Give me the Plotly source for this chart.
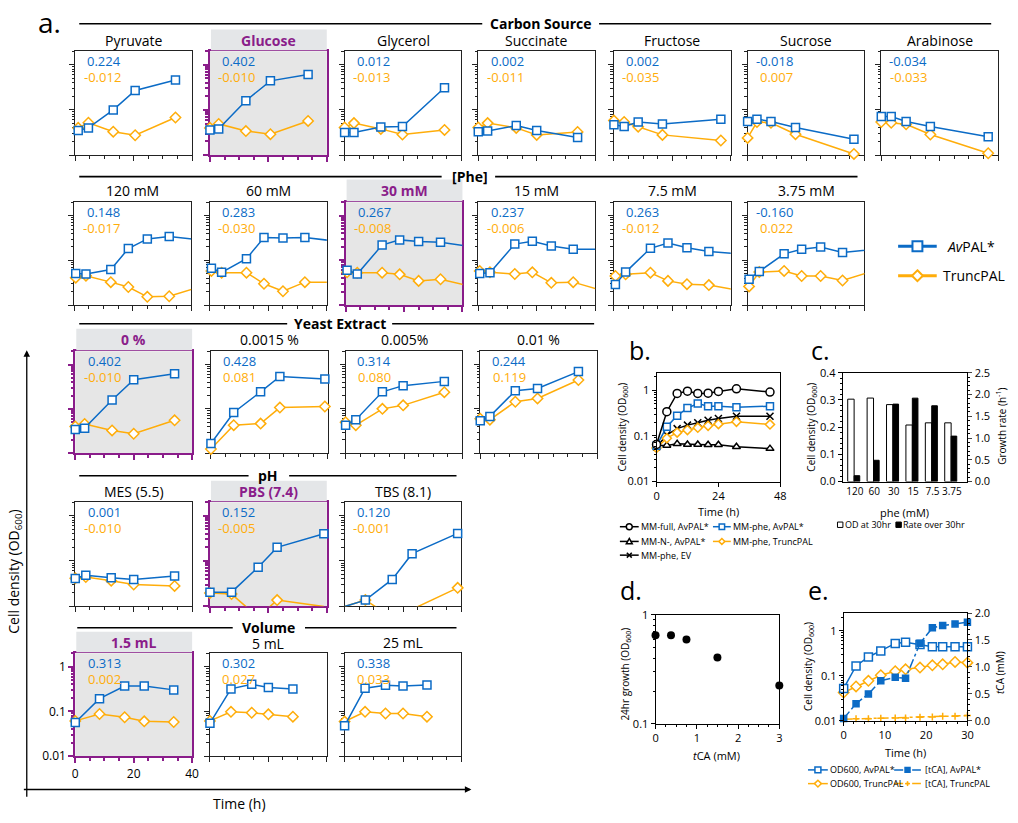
import math
import plotly.graph_objects as go

# ---------------- data: panel a ----------------
carbon_names = ["Pyruvate", "Glucose", "Glycerol", "Succinate", "Fructose", "Sucrose", "Arabinose"]
carbon_time = [
    [1, 4.5, 13, 20.5, 34.3],
    [0, 3, 12.3, 20.7, 33.6],
    [0, 3.2, 12.4, 19.8, 34.2],
    [0, 3.2, 13, 20, 34],
    [0, 3.5, 8.3, 16.6, 36.6],
    [0, 3.2, 8.0, 16.4, 36.4],
    [0, 3.4, 8.5, 16.8, 36.6],
]
carbon_avpal = [
    [0.035, 0.040, 0.10, 0.27, 0.46],
    [0.036, 0.038, 0.16, 0.44, 0.61],
    [0.0315, 0.0315, 0.042, 0.043, 0.31],
    [0.033, 0.034, 0.045, 0.035, 0.0245],
    [0.047, 0.043, 0.054, 0.049, 0.0625],
    [0.0556, 0.0625, 0.0556, 0.041, 0.0225],
    [0.0716, 0.0716, 0.0556, 0.043, 0.0254],
]
carbon_trunc = [
    [0.040, 0.052, 0.033, 0.0275, 0.068],
    [0.040, 0.049, 0.034, 0.029, 0.057],
    [0.041, 0.051, 0.038, 0.0285, 0.036],
    [0.041, 0.051, 0.040, 0.028, 0.0326],
    [0.058, 0.054, 0.0425, 0.028, 0.021],
    [0.024, 0.054, 0.052, 0.029, 0.0106],
    [0.054, 0.052, 0.048, 0.0285, 0.011],
]
carbon_rate_av = ["0.224", "0.402", "0.012", "0.002", "0.002", "-0.018", "-0.034"]
carbon_rate_tr = ["-0.012", "-0.010", "-0.013", "-0.011", "-0.035", "0.007", "-0.033"]

phe_names = ["120 mM", "60 mM", "30 mM", "15 mM", "7.5 mM", "3.75 mM"]
phe_time = [0.5, 4, 12.5, 18.5, 25, 32.5, 48]
phe_avpal = [
    [0.051, 0.0496, 0.0625, 0.183, 0.302, 0.34, 0.266],
    [0.0668, 0.054, 0.109, 0.323, 0.317, 0.323, 0.247],
    [0.0605, 0.0496, 0.22, 0.287, 0.264, 0.255, 0.18],
    [0.051, 0.053, 0.231, 0.268, 0.209, 0.177, 0.177],
    [0.029, 0.0547, 0.186, 0.243, 0.192, 0.157, 0.133],
    [0.0379, 0.0566, 0.14, 0.177, 0.199, 0.15, 0.189],
]
phe_trunc = [
    [0.041, 0.0455, 0.0326, 0.0254, 0.0153, 0.0158, 0.032],
    [0.058, 0.053, 0.053, 0.030, 0.0204, 0.0326, 0.032],
    [0.054, 0.053, 0.053, 0.0487, 0.0348, 0.0379, 0.022],
    [0.058, 0.054, 0.0496, 0.054, 0.0315, 0.0326, 0.0167],
    [0.0447, 0.0487, 0.053, 0.0348, 0.0294, 0.028, 0.0187],
    [0.0262, 0.0547, 0.058, 0.0447, 0.0447, 0.0354, 0.074],
]
phe_rate_av = ["0.148", "0.283", "0.267", "0.237", "0.263", "-0.160"]
phe_rate_tr = ["-0.017", "-0.030", "-0.008", "-0.006", "-0.012", "0.022"]

yeast_names = ["0 %", "0.0015 %", "0.005%", "0.01 %"]
yeast_time = [
    [0, 3.2, 12.6, 20, 34],
    [0, 7.8, 17, 23.6, 39],
    [0, 3.5, 12.6, 19.7, 33.8],
    [0, 3.3, 12, 19.6, 33.6],
]
yeast_avpal = [
    [0.0343, 0.0367, 0.158, 0.454, 0.617],
    [0.0165, 0.083, 0.242, 0.538, 0.47],
    [0.0428, 0.057, 0.242, 0.334, 0.417],
    [0.0542, 0.0676, 0.255, 0.287, 0.693],
]
yeast_trunc = [
    [0.040, 0.0457, 0.0326, 0.0275, 0.0552],
    [0.0124, 0.0428, 0.0465, 0.107, 0.113],
    [0.0498, 0.0428, 0.1, 0.12, 0.238],
    [0.06, 0.057, 0.145, 0.172, 0.447],
]
yeast_rate_av = ["0.402", "0.428", "0.314", "0.244"]
yeast_rate_tr = ["-0.010", "0.081", "0.080", "0.119"]

ph_names = ["MES (5.5)", "PBS (7.4)", "TBS (8.1)"]
ph_time = [
    [0, 3.6, 12.3, 20, 34],
    [0, 7.4, 16.5, 23, 39],
    [0, 7.1, 16.3, 23.1, 38.7],
]
ph_avpal = [
    [0.041, 0.048, 0.0425, 0.039, 0.0463],
    [0.0204, 0.0204, 0.0727, 0.20, 0.40],
    [0.0098, 0.0136, 0.039, 0.145, 0.408],
]
ph_trunc = [
    [0.0415, 0.044, 0.0366, 0.030, 0.028],
    [0.0195, 0.0185, 0.0057, 0.0136, 0.0098],
    [0.0098, 0.0136, 0.0056, 0.0085, 0.0254],
]
ph_rate_av = ["0.001", "0.152", "0.120"]
ph_rate_tr = ["-0.010", "-0.005", "-0.001"]

vol_names = ["1.5 mL", "5 mL", "25 mL"]
vol_time = [
    [0, 8.3, 16.9, 23.6, 33.7],
    [0, 7.2, 14.3, 20, 28.4],
    [0, 7, 14, 20, 28.2],
]
vol_avpal = [
    [0.0565, 0.193, 0.37, 0.37, 0.303],
    [0.0546, 0.319, 0.404, 0.341, 0.319],
    [0.0477, 0.33, 0.384, 0.37, 0.39],
]
vol_trunc = [
    [0.0614, 0.0874, 0.074, 0.060, 0.058],
    [0.0614, 0.098, 0.0935, 0.086, 0.0764],
    [0.0594, 0.098, 0.09, 0.09, 0.0764],
]
vol_rate_av = ["0.313", "0.302", "0.338"]
vol_rate_tr = ["0.002", "0.027", "0.033"]

# ---------------- data: panel b ----------------
b_time = [0, 4, 8, 12, 16, 20, 24, 31, 44]
b_full_av = [0.065, 0.338, 0.85, 0.95, 0.85, 0.86, 0.94, 1.07, 0.906]
b_phe_av = [0.061, 0.158, 0.277, 0.405, 0.51, 0.446, 0.446, 0.425, 0.446]
b_n_av = [0.062, 0.062, 0.067, 0.065, 0.065, 0.064, 0.064, 0.058, 0.0527]
b_phe_trunc = [0.0544, 0.089, 0.118, 0.134, 0.151, 0.166, 0.181, 0.203, 0.178]
b_phe_ev = [0.057, 0.105, 0.144, 0.172, 0.193, 0.22, 0.239, 0.268, 0.268]

# ---------------- data: panel c ----------------
c_phe = ["120", "60", "30", "15", "7.5", "3.75"]
c_od30 = [0.303, 0.307, 0.283, 0.208, 0.216, 0.216]
c_rate30 = [0.136, 0.49, 1.78, 1.917, 1.742, 1.045]

# ---------------- data: panel d ----------------
d_tca = [0, 0.375, 0.75, 1.5, 3]
d_growth = [0.65, 0.65, 0.594, 0.406, 0.225]

# ---------------- data: panel e ----------------
e_time = [0, 3, 6, 9, 12.5, 15, 18.5, 21.5, 24, 27, 30]
e_od_av = [0.0526, 0.166, 0.263, 0.356, 0.526, 0.562, 0.5, 0.444, 0.444, 0.444, 0.444]
e_od_tr = [0.0428, 0.0582, 0.0776, 0.1035, 0.127, 0.14, 0.153, 0.172, 0.181, 0.204, 0.197]
e_tca_av = [0.043, 0.318, 0.50, 0.746, 0.807, 0.789, 1.437, 1.725, 1.768, 1.798, 1.829]
e_tca_tr = [0.03, 0.037, 0.037, 0.049, 0.055, 0.055, 0.067, 0.073, 0.086, 0.086, 0.098]

# ---------------- styling ----------------
FONT = "Open Sans"
BLUE = "#0b6bc6"
ORANGE = "#ffad0a"
PURPLE = "#8a1d8a"
PLOT_GRAY = "#e6e6e6"
BOX_GRAY = "#e4e6e8"
W, H = 1018, 823
LOG_MINOR = [k * 10 ** e for e in (-2, -1) for k in range(2, 10)] + [2]

fig = go.Figure()
layout = {}
shapes = []
annos = []
counter = {"x": 0, "y": 0}


def PX(x):
    return x / W


def PY(y):
    return 1 - y / H


def text(x, y, s, size=14, color="black", bold=False, xanchor="center", angle=0):
    if bold:
        s = "<b>" + s + "</b>"
    annos.append(dict(x=PX(x), y=PY(y), xref="paper", yref="paper", text=s, showarrow=False,
                      xanchor=xanchor, yanchor="middle", textangle=angle, borderpad=0,
                      font=dict(family=FONT, size=size, color=color)))


def line(x0, y0, x1, y1, color="black", width=1.5, dash="solid"):
    shapes.append(dict(type="line", xref="paper", yref="paper", x0=PX(x0), x1=PX(x1),
                       y0=PY(y0), y1=PY(y1), line=dict(color=color, width=width, dash=dash)))


def rect(x0, y0, x1, y1, fill, lcolor=None, lw=0):
    shapes.append(dict(type="rect", xref="paper", yref="paper", x0=PX(x0), x1=PX(x1),
                       y0=PY(y1), y1=PY(y0), fillcolor=fill,
                       line=dict(color=lcolor or fill, width=lw)))


def marker_shape(sym, cx, cy, s, color, fill, lw=1.5):
    h = s / 2
    if sym == "square":
        rect(cx - h, cy - h, cx + h, cy + h, fill, color, lw)
    elif sym == "circle":
        shapes.append(dict(type="circle", xref="paper", yref="paper", x0=PX(cx - h), x1=PX(cx + h),
                           y0=PY(cy + h), y1=PY(cy - h), fillcolor=fill, line=dict(color=color, width=lw)))
    elif sym in ("diamond", "triangle"):
        if sym == "diamond":
            pts = [(cx, cy - h), (cx + h, cy), (cx, cy + h), (cx - h, cy)]
        else:
            pts = [(cx, cy - h), (cx + h, cy + h * 0.8), (cx - h, cy + h * 0.8)]
        path = "M " + " L ".join(f"{PX(a):.5f},{PY(b):.5f}" for a, b in pts) + " Z"
        shapes.append(dict(type="path", xref="paper", yref="paper", path=path, fillcolor=fill,
                           line=dict(color=color, width=lw)))
    elif sym == "x":
        line(cx - h, cy - h, cx + h, cy + h, color, lw)
        line(cx - h, cy + h, cx + h, cy - h, color, lw)
    elif sym == "cross":
        line(cx - h, cy, cx + h, cy, color, lw)
        line(cx, cy - h, cx, cy + h, color, lw)


def legend_entry(x0, x1, y, color, sym, s, fill, dash, label, size=9, lw=1.5, gap=1):
    line(x0, y, x1, y, color, lw, dash)
    marker_shape(sym, (x0 + x1) / 2, y, s, color, fill, lw if lw < 2 else 2)
    text(x1 + gap, y, label, size=size, xanchor="left")


def base_axis(color="black", width=1, size=11):
    return dict(showline=True, mirror=True, linecolor=color, linewidth=width, showgrid=False,
                zeroline=False, ticks="outside", tickcolor=color, tickwidth=width,
                tickfont=dict(family=FONT, size=size, color="black"))


def add_axes(x0, x1, ytop, ybot, xcfg, ycfg):
    counter["x"] += 1
    counter["y"] += 1
    xs = "" if counter["x"] == 1 else str(counter["x"])
    ys = "" if counter["y"] == 1 else str(counter["y"])
    layout["xaxis" + xs] = dict(domain=[PX(x0), PX(x1)], anchor="y" + ys, **xcfg)
    layout["yaxis" + ys] = dict(domain=[PY(ybot), PY(ytop)], anchor="x" + xs, **ycfg)
    return "x" + xs, "y" + ys


def add_twin(xa, ya, ycfg):
    counter["y"] += 1
    ys = str(counter["y"])
    layout["yaxis" + ys] = dict(overlaying=ya, anchor=xa, side="right", **ycfg)
    return "y" + ys


def series(xa, ya, t, v, color, symbol, size, xr, fill="white", dash="solid", lw=1.5):
    fig.add_trace(go.Scatter(x=t, y=v, xaxis=xa, yaxis=ya, mode="lines",
                             line=dict(color=color, width=lw, dash=dash), showlegend=False,
                             hoverinfo="skip"))
    keep = [(a, b) for a, b in zip(t, v) if xr[0] <= a <= xr[1] and b >= 0.0099]
    fig.add_trace(go.Scatter(x=[a for a, _ in keep], y=[b for _, b in keep], xaxis=xa, yaxis=ya,
                             mode="markers", cliponaxis=False, showlegend=False,
                             marker=dict(symbol=symbol, size=size, color=fill,
                                         line=dict(color=color, width=1.5))))


# ---------------- panel a ----------------
PW = 118
ROWS = [
    dict(names=carbon_names, time=carbon_time, av=carbon_avpal, tr=carbon_trunc,
         rav=carbon_rate_av, rtr=carbon_rate_tr, xs=[73, 209, 345, 480, 617, 752, 887],
         top=44, bot=150, ty=33, hi=1),
    dict(names=phe_names, time=[phe_time] * len(phe_names), av=phe_avpal, tr=phe_trunc,
         rav=phe_rate_av, rtr=phe_rate_tr, xs=[72, 209, 346, 480, 617, 752],
         top=198, bot=303, ty=186, hi=2),
    dict(names=yeast_names, time=yeast_time, av=yeast_avpal, tr=yeast_trunc,
         rav=yeast_rate_av, rtr=yeast_rate_tr, xs=[73, 210, 346, 482],
         top=350, bot=454, ty=338, hi=0),
    dict(names=ph_names, time=ph_time, av=ph_avpal, tr=ph_trunc,
         rav=ph_rate_av, rtr=ph_rate_tr, xs=[73, 209, 345],
         top=504, bot=610, ty=493, hi=1),
    dict(names=vol_names, time=vol_time, av=vol_avpal, tr=vol_trunc,
         rav=vol_rate_av, rtr=vol_rate_tr, xs=[73, 209, 345],
         top=658, bot=763, ty=647, hi=0),
]
HEADERS = [
    ("Carbon Source", 16, 543, (77, 484), (602, 998)),
    ("[Phe]", 172, 472, (77, 443), (497, 863)),
    ("Yeast Extract", 322, 340, (77, 287), (393, 597)),
    ("pH", 477, 268, (77, 248), (289, 458)),
    ("Volume", 632, 268, (75, 232), (305, 458)),
]
for name, y, cx, l1, l2 in HEADERS:
    line(l1[0], y, l1[1], y, "black", 1.6)
    line(l2[0], y, l2[1], y, "black", 1.6)
    text(cx, y, name, size=14, bold=True)

for ri, row in enumerate(ROWS):
    for i, name in enumerate(row["names"]):
        x0 = row["xs"][i]
        hi = (i == row["hi"])
        labels = (ri == len(ROWS) - 1 and i == 0)
        col = PURPLE if hi else "#222222"
        lw = 2 if hi else 1
        xcfg = base_axis(col, lw, 12)
        xcfg.update(range=[0, 40], tickvals=[0, 20, 40], ticktext=["0", "20", "40"], ticklen=5,
                    minor=dict(tickvals=[5, 10, 15, 25, 30, 35], ticklen=3, ticks="outside",
                               tickcolor=col, tickwidth=lw),
                    showticklabels=labels, layer="below traces")
        ycfg = base_axis(col, lw, 12)
        ycfg.update(type="log", range=[-2, math.log10(2)], tickvals=[0.01, 0.1, 1],
                    ticktext=["0.01", "0.1", "1"], ticklen=5,
                    minor=dict(tickvals=LOG_MINOR, ticklen=2.5, ticks="outside",
                               tickcolor=col, tickwidth=lw),
                    showticklabels=labels, layer="below traces")
        xa, ya = add_axes(x0, x0 + PW, row["top"], row["bot"], xcfg, ycfg)
        ty = row["ty"] + (1 if (ri == 4 and i == 1) else 0)
        if hi:
            shapes.append(dict(type="rect", xref=xa + " domain", yref=ya + " domain",
                               x0=0, x1=1, y0=0, y1=1, fillcolor=PLOT_GRAY,
                               line=dict(width=0), layer="below"))
            rect(x0 + 1, row["ty"] - 11, x0 + PW, row["top"] - 1, BOX_GRAY)
            text(x0 + PW / 2, ty, name, size=14, color=PURPLE, bold=True)
        else:
            text(x0 + PW / 2, ty, name, size=14)
        series(xa, ya, row["time"][i], row["tr"][i], ORANGE, "diamond", 8, [0, 40])
        series(xa, ya, row["time"][i], row["av"][i], BLUE, "square", 8, [0, 40])
        text(x0 + 47, row["top"] + 10, row["rav"][i], size=13, color=BLUE, xanchor="right")
        text(x0 + 47, row["top"] + 26, row["rtr"][i], size=13, color=ORANGE, xanchor="right")

# big axis arrows and labels of panel a
annos.append(dict(x=PX(24), y=PY(349), xref="paper", yref="paper", ax=0, ay=448, text="",
                  showarrow=True, arrowhead=2, arrowsize=1, arrowwidth=1.3, arrowcolor="black"))
annos.append(dict(x=PX(473), y=PY(797), xref="paper", yref="paper", ax=-449, ay=0, text="",
                  showarrow=True, arrowhead=2, arrowsize=1, arrowwidth=1.3, arrowcolor="black"))
text(12, 575, "Cell density (OD<sub>600</sub>)", size=14, angle=-90)
text(239, 811, "Time (h)", size=14)

# panel a legend
legend_entry(904, 943, 243, BLUE, "square", 10, "white", "solid", "<i>Av</i>PAL*", size=14, lw=3, gap=9)
legend_entry(904, 943, 273, ORANGE, "diamond", 11, "white", "solid", "TruncPAL", size=14, lw=3, gap=5)

# ---------------- panel b ----------------
xcfg = base_axis()
xcfg.update(range=[0, 48], tickvals=[0, 24, 48], ticklen=4)
ycfg = base_axis()
ycfg.update(type="log", range=[-2, math.log10(2.4)], tickvals=[0.01, 0.1, 1],
            ticktext=["0.01", "0.1", "1"], ticklen=4,
            minor=dict(tickvals=LOG_MINOR, ticklen=2, ticks="outside", tickcolor="black"))
bx, by = add_axes(660, 785, 372, 483, xcfg, ycfg)
series(bx, by, b_time, b_n_av, "black", "triangle-up", 7, [0, 48])
series(bx, by, b_time, b_phe_ev, "black", "x-thin", 7, [0, 48])
series(bx, by, b_time, b_phe_trunc, ORANGE, "diamond", 7, [0, 48])
series(bx, by, b_time, b_phe_av, BLUE, "square", 7, [0, 48])
series(bx, by, b_time, b_full_av, "black", "circle", 8, [0, 48])
text(626, 427, "Cell density (OD<sub>600</sub>)", size=10, angle=-90)
text(723, 513, "Time (h)", size=11)
legend_entry(623, 642, 529, "black", "circle", 6, "white", "solid", "MM-full, AvPAL*")
legend_entry(717, 735, 529, BLUE, "square", 5.5, "white", "solid", "MM-phe, AvPAL*")
legend_entry(623, 642, 544, "black", "triangle", 6, "white", "solid", "MM-N-, AvPAL*")
legend_entry(717, 735, 544, ORANGE, "diamond", 6, "white", "solid", "MM-phe, TruncPAL")
legend_entry(623, 642, 558, "black", "x", 5, "white", "solid", "MM-phe, EV")

# ---------------- panel c ----------------
xcfg = base_axis()
xcfg.update(type="category", range=[-0.63, 5.8], ticks="", tickangle=0,
            tickfont=dict(family=FONT, size=10, color="black"))
ycfg = base_axis()
ycfg.update(range=[0, 0.4], dtick=0.1, tickformat=".1f", ticklen=4,
            minor=dict(dtick=0.02, ticklen=2, ticks="outside", tickcolor="black"))
cx_, cy_ = add_axes(848, 974, 372, 483, xcfg, ycfg)
y2cfg = dict(range=[0, 2.5], dtick=0.5, tickformat=".1f", showline=True, linecolor="black",
             linewidth=1, ticks="outside", ticklen=4, showgrid=False, zeroline=False,
             tickfont=dict(family=FONT, size=11, color="black"),
             minor=dict(dtick=0.1, ticklen=2, ticks="outside", tickcolor="black"))
cy2 = add_twin(cx_, cy_, y2cfg)
fig.add_trace(go.Bar(x=c_phe, y=c_od30, xaxis=cx_, yaxis=cy_, width=0.33, offset=-0.37,
                     marker=dict(color="white", line=dict(color="black", width=1)), showlegend=False))
fig.add_trace(go.Bar(x=c_phe, y=c_rate30, xaxis=cx_, yaxis=cy2, width=0.29, offset=-0.04,
                     marker=dict(color="black", line=dict(color="black", width=1)), showlegend=False))
text(817, 427, "Cell density (OD<sub>600</sub>)", size=10, angle=-90)
text(1008, 427, "Growth rate (h<sup>-1</sup>)", size=10, angle=-90)
text(910, 514, "phe (mM)", size=11)
marker_shape("square", 845.5, 527, 5.5, "black", "white", 1)
text(849, 527, "OD at 30hr", size=9, xanchor="left")
marker_shape("square", 904.5, 527, 5.5, "black", "black", 1)
text(908, 527, "Rate over 30hr", size=9, xanchor="left")

# ---------------- panel d ----------------
xcfg = base_axis()
xcfg.update(range=[0, 3], tickvals=[0, 1, 2, 3], ticklen=4,
            minor=dict(dtick=0.25, ticklen=2, ticks="outside", tickcolor="black"))
ycfg = base_axis()
ycfg.update(type="log", range=[-1, 0], tickvals=[0.1, 1], ticktext=["0.1", "1"], ticklen=4,
            minor=dict(tickvals=[k / 10 for k in range(2, 10)], ticklen=2, ticks="outside",
                       tickcolor="black"))
dx, dy = add_axes(659, 784, 619, 730, xcfg, ycfg)
fig.add_trace(go.Scatter(x=d_tca, y=d_growth, xaxis=dx, yaxis=dy, mode="markers", cliponaxis=False,
                         marker=dict(color="black", size=8), showlegend=False))
text(629, 679, "24hr growth (OD<sub>600</sub>)", size=10, angle=-90)
text(721, 762, "<i>t</i>CA (mM)", size=11)

# ---------------- panel e ----------------
xcfg = base_axis()
xcfg.update(range=[0, 30], tickvals=[0, 10, 20, 30], ticklen=4,
            minor=dict(dtick=2.5, ticklen=2, ticks="outside", tickcolor="black"))
ycfg = base_axis()
ycfg.update(type="log", range=[-2, math.log10(2.5)], tickvals=[0.01, 0.1, 1],
            ticktext=["0.01", "0.1", "1"], ticklen=4,
            minor=dict(tickvals=LOG_MINOR, ticklen=2, ticks="outside", tickcolor="black"))
ex, ey = add_axes(849, 974, 617, 727, xcfg, ycfg)
y2cfg = dict(range=[0, 2.0], dtick=0.5, tickformat=".1f", showline=True, linecolor="black",
             linewidth=1, ticks="outside", ticklen=4, showgrid=False, zeroline=False,
             tickfont=dict(family=FONT, size=11, color="black"),
             minor=dict(dtick=0.1, ticklen=2, ticks="outside", tickcolor="black"))
ey2 = add_twin(ex, ey, y2cfg)
series(ex, ey, e_time, e_od_tr, ORANGE, "diamond", 8, [0, 30])
series(ex, ey, e_time, e_od_av, BLUE, "square", 8, [0, 30])
series(ex, ey2, e_time, e_tca_tr, ORANGE, "cross-thin", 5, [0, 30], fill=ORANGE, dash="dashdot")
series(ex, ey2, e_time, e_tca_av, BLUE, "square", 6, [0, 30], fill=BLUE, dash="dashdot")
text(814, 672, "Cell density (OD<sub>600</sub>)", size=10, angle=-90)
text(1007, 678, "<i>t</i>CA (mM)", size=10, angle=-90)
text(911, 759, "Time (h)", size=11)
legend_entry(813, 833, 777, BLUE, "square", 6, "white", "solid", "OD600, AvPAL*")
legend_entry(900, 927, 777, BLUE, "square", 5, BLUE, "dashdot", "[tCA], AvPAL*", gap=3)
legend_entry(813, 833, 791, ORANGE, "diamond", 7, "white", "solid", "OD600, TruncPAL")
legend_entry(900, 927, 791, ORANGE, "cross", 5, ORANGE, "dashdot", "[tCA], TruncPAL", gap=3)

# panel letters
text(47, 14, "a.", size=28)
text(643, 349, "b.", size=25)
text(826, 349, "c.", size=25)
text(634, 594, "d.", size=25)
text(824, 594, "e.", size=25)

fig.update_layout(**layout)
fig.update_layout(width=W, height=H, margin=dict(l=0, r=0, t=0, b=0), paper_bgcolor="white",
                  plot_bgcolor="white", shapes=shapes, annotations=annos, showlegend=False,
                  font=dict(family=FONT, size=11, color="black"), barmode="overlay")
fig.write_html("out.html", config={"displayModeBar": False},
               post_script="document.body.style.margin='0px';")
